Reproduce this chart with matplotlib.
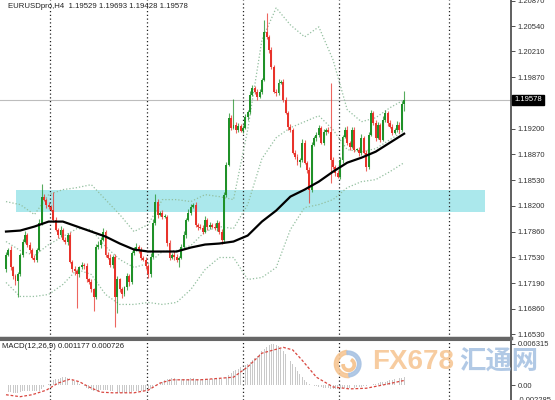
import matplotlib
matplotlib.use("Agg")
import matplotlib.pyplot as plt
import matplotlib.transforms as mtransforms
import numpy as np
from matplotlib.patches import Rectangle, Wedge

plt.rcParams['font.family'] = ['Liberation Sans', 'DejaVu Sans', 'Noto Sans CJK SC']

# ---- data (EURUSD H4) ----
first_open = 1.17370
closes = [
    1.17565, 1.17630, 1.17396, 1.17279, 1.17214, 1.17305, 1.17565, 1.17734, 1.17825, 1.17695,
    1.17630, 1.17526, 1.17500, 1.17630, 1.17981, 1.18319, 1.18280, 1.18215, 1.18189, 1.18150,
    1.18020, 1.17890, 1.17825, 1.17890, 1.17760, 1.17734, 1.17825, 1.17474, 1.17370, 1.17344,
    1.17305, 1.17396, 1.17435, 1.17422, 1.17240, 1.17201, 1.17110, 1.17006, 1.17669, 1.17695,
    1.17760, 1.17864, 1.17565, 1.17526, 1.17435, 1.17539, 1.17006, 1.17240, 1.17110, 1.17045,
    1.17136, 1.17279, 1.17201, 1.17591, 1.17630, 1.17669, 1.17630, 1.17526, 1.17500, 1.17409,
    1.17305, 1.17539, 1.17981, 1.18254, 1.18085, 1.18111, 1.18059, 1.18059, 1.17721, 1.17526,
    1.17565, 1.17539, 1.17500, 1.17526, 1.17669, 1.17825, 1.18020, 1.18111, 1.18189, 1.18215,
    1.17955, 1.17929, 1.17916, 1.17864, 1.18020, 1.17929, 1.17955, 1.17929, 1.17916, 1.17981,
    1.17864, 1.17760, 1.18345, 1.18735, 1.19346, 1.19216, 1.19255, 1.19190, 1.19242, 1.19177,
    1.19216, 1.19359, 1.19424, 1.19645, 1.19736, 1.19684, 1.19619, 1.19684, 1.19840, 1.20464,
    1.20399, 1.20230, 1.20009, 1.19684, 1.19671, 1.19801, 1.19814, 1.19580, 1.19411, 1.19229,
    1.19190, 1.18891, 1.18839, 1.18774, 1.18800, 1.19021, 1.18761, 1.18670, 1.18410, 1.18995,
    1.19086, 1.19125, 1.19216, 1.19021, 1.19164, 1.19190, 1.19164, 1.18800, 1.18709, 1.18631,
    1.18579, 1.18800, 1.19099, 1.19190, 1.19021, 1.18969, 1.19190, 1.18930, 1.18930, 1.18891,
    1.19086, 1.18891, 1.18709, 1.19125, 1.19411, 1.19281, 1.19086, 1.19255, 1.19060, 1.19320,
    1.19411, 1.19281, 1.19229, 1.19151, 1.19190, 1.19255, 1.19190, 1.19529, 1.19578,
]
upper_wick_pips = [
    3, 2, 4, 2, 3, 3, 2, 3, 4, 2, 3, 2, 3, 2, 4, 16, 3, 2, 3, 2,
    23, 3, 2, 4, 2, 3, 2, 3, 2, 4, 3, 2, 3, 2, 3, 2, 4, 2, 3, 4,
    3, 5, 2, 3, 4, 2, 3, 4, 2, 3, 2, 4, 3, 2, 3, 4, 2, 3, 2, 3,
    3, 4, 5, 10, 3, 2, 4, 3, 2, 3, 2, 4, 3, 2, 3, 4, 2, 5, 3, 2,
    4, 2, 3, 3, 5, 2, 3, 2, 4, 3, 2, 3, 4, 3, 6, 3, 33, 4, 3, 2,
    3, 4, 2, 5, 3, 2, 4, 3, 2, 16, 25, 3, 4, 2, 3, 5, 2, 3, 4, 2,
    3, 2, 4, 3, 2, 5, 3, 2, 3, 4, 2, 3, 4, 2, 3, 2, 4, 64, 3, 2,
    3, 4, 2, 3, 5, 2, 3, 4, 2, 3, 5, 2, 3, 4, 3, 2, 4, 3, 2, 5,
    3, 2, 4, 3, 2, 5, 3, 4, 11,
]
lower_wick_pips = [
    3, 2, 3, 3, 4, 20, 2, 3, 2, 3, 4, 2, 3, 3, 2, 3, 2, 4, 3, 2,
    3, 2, 4, 3, 2, 3, 4, 2, 3, 5, 43, 3, 2, 4, 3, 2, 3, 18, 2, 3,
    4, 2, 3, 2, 3, 4, 38, 20, 3, 4, 2, 3, 5, 2, 3, 2, 4, 3, 2, 3,
    4, 3, 2, 3, 4, 2, 3, 2, 4, 3, 2, 5, 3, 10, 2, 3, 4, 2, 3, 2,
    3, 4, 2, 3, 2, 4, 3, 2, 3, 4, 3, 6, 4, 3, 2, 3, 2, 4, 3, 2,
    3, 2, 4, 3, 2, 3, 4, 2, 3, 2, 3, 4, 3, 2, 4, 3, 2, 3, 2, 4,
    3, 2, 3, 4, 7, 3, 2, 4, 17, 3, 2, 4, 3, 2, 3, 4, 2, 30, 3, 4,
    2, 3, 4, 2, 3, 4, 2, 3, 2, 4, 3, 2, 6, 3, 2, 3, 4, 2, 3, 2,
    3, 4, 2, 3, 2, 3, 4, 2, 10,
]

# indicator values sampled every 6 bars
ind_idx = list(range(0, 169, 6))
ma_vals = [1.17864, 1.17877, 1.17929, 1.17994, 1.17994, 1.17929, 1.17864, 1.17799, 1.17708, 1.17630,
           1.17604, 1.17604, 1.17604, 1.17656, 1.17695, 1.17708, 1.17734, 1.17812, 1.17994, 1.18137,
           1.18319, 1.18410, 1.18514, 1.18644, 1.18761, 1.18826, 1.18904, 1.19021, 1.19138]
bb_upper = [1.18254, 1.18215, 1.18085, 1.18345, 1.18410, 1.18436, 1.18475, 1.18280, 1.18085, 1.17864,
            1.17955, 1.18280, 1.18280, 1.18254, 1.18345, 1.18319, 1.18280, 1.19190, 1.20360, 1.20776,
            1.20555, 1.20399, 1.20529, 1.20100, 1.19450, 1.19294, 1.19346, 1.19476, 1.19580]
bb_mid = [1.17734, 1.17617, 1.17552, 1.17695, 1.17799, 1.17903, 1.17890, 1.17669, 1.17500, 1.17396,
          1.17448, 1.17604, 1.17617, 1.17682, 1.17864, 1.17929, 1.17903, 1.18215, 1.18813, 1.19086,
          1.19216, 1.19294, 1.19372, 1.19190, 1.18930, 1.18904, 1.18943, 1.19060, 1.19177]
bb_lower = [1.17201, 1.17019, 1.17019, 1.17045, 1.17175, 1.17370, 1.17305, 1.17045, 1.16915, 1.16915,
            1.16941, 1.16915, 1.16941, 1.17110, 1.17370, 1.17526, 1.17526, 1.17240, 1.17266, 1.17396,
            1.17890, 1.18176, 1.18215, 1.18280, 1.18436, 1.18514, 1.18540, 1.18644, 1.18761]

# MACD main (x 1e-4) per bar, signal sampled
macd_main = [
    -10, -11, -11, -12, -12, -12, -11, -10, -9, -9, -9, -9, -10, -10, -9, -6, -3, 0, 2, 5,
    7, 9, 10, 11, 12, 12, 11, 10, 8, 6, 4, 2, 0, -2, -4, -6, -8, -10, -10, -9,
    -8, -7, -7, -8, -9, -9, -11, -12, -12, -12, -12, -12, -11, -11, -10, -10, -10, -10, -10, -10,
    -8, -6, -4, -2, 0, 3, 5, 7, 9, 10, 11, 11, 10, 10, 9, 9, 10, 10, 11, 11,
    10, 10, 9, 9, 9, 9, 9, 9, 9, 9, 9, 9, 12, 13, 16, 19, 21, 23, 25, 27,
    29, 31, 33, 35, 38, 41, 44, 48, 52, 56, 59, 61, 63, 63, 62, 60, 56, 52, 47, 42,
    37, 32, 27, 22, 17, 12, 8, 4, 2, 0, -1, -2, -3, -3, -4, -4, -5, -6, -6, -6,
    -6, -5, -5, -5, -5, -4, -4, -4, -3, -3, -3, -2, -1, 0, 0, 1, 2, 3, 4, 5,
    5, 6, 7, 8, 9, 10, 11, 11, 12,
]
sig_idx = [0, 6, 11, 17, 22, 27, 31, 35, 40, 45, 54, 60, 65, 70, 82, 96, 102, 108,
           117, 121, 125, 131, 138, 145, 152, 159, 168]
sig_vals = [-15, -18, -15, -8, 3, 9, 5, -3, -11, -12, -12, -8, 3, 8, 8, 12, 28, 49,
            58, 54, 38, 12, -3, -6, -5, 0, 7]

last_price = 1.19578
zone_low, zone_high = 1.18118, 1.18405
zone_x = (4.2, 202.1)
sep_idx = [18.6, 59.5, 100.0, 140.5, 186.9]
price_ticks = [1.20870, 1.20540, 1.20210, 1.19870, 1.19200, 1.18870, 1.18530,
               1.18200, 1.17860, 1.17530, 1.17190, 1.16860, 1.16530]
macd_ticks = [0.006315, 0.0, -0.002285]
macd_tick_labels = ['0.006315', '0.00', '-0.002285']

GREEN = '#1f9128'
RED = '#e8332b'
BAND = '#93bf9f'

W, H = 555, 400
fig = plt.figure(figsize=(W / 100, H / 100), dpi=100)
ax = fig.add_axes([0, 62 / H, 511 / W, 338 / H])
ax2 = fig.add_axes([0, 0, 511 / W, 60 / H])

n = len(closes)
x = np.arange(n)
c = np.array(closes)
o = np.array([first_open] + closes[:-1])
top = np.maximum(o, c)
bot = np.minimum(o, c)
hi = top + np.array(upper_wick_pips) * 1e-4
lo = bot - np.array(lower_wick_pips) * 1e-4
up = c >= o
cols = np.where(up, GREEN, RED)
body = np.maximum(top - bot, 0.00004)

# zone + lines
ax.add_patch(Rectangle((zone_x[0], zone_low), zone_x[1] - zone_x[0], zone_high - zone_low,
                       facecolor='#abe8ec', edgecolor='none', zorder=0))
ax.axhline(last_price, color='#bdbdbd', lw=0.8, zorder=1)
for s in sep_idx:
    ax.axvline(s, color='#222222', ls=(0, (1, 2)), lw=0.9, zorder=1)
    ax2.axvline(s, color='#222222', ls=(0, (1, 2)), lw=0.9, zorder=1)

# candles
ax.vlines(x, lo, hi, colors=cols, lw=0.8, alpha=0.75, zorder=3)
ax.bar(x, body, bottom=bot, width=0.82, color=cols, linewidth=0, zorder=4)

# bands & MA
for band in (bb_upper, bb_mid, bb_lower):
    ax.plot(ind_idx, band, color=BAND, ls=(0, (1, 1.6)), lw=0.9, zorder=2)
ax.plot(ind_idx, ma_vals, color='black', lw=1.6, zorder=5)

ax.set_xlim(-2.53, 213.1)
ax.set_ylim(1.16478, 1.20879)
ax.set_xticks([])
ax.yaxis.tick_right()
ax.set_yticks(price_ticks)
ax.set_yticklabels([f'{t:.5f}' for t in price_ticks])
ax.tick_params(axis='y', direction='out', length=3, width=0.6, labelsize=5.5,
               pad=2, colors='#333333')
for s in ('left', 'top'):
    ax.spines[s].set_visible(False)
ax.spines['right'].set_color('#444444')
ax.spines['right'].set_linewidth(1.2)
ax.spines['bottom'].set_color('#666666')
ax.spines['bottom'].set_linewidth(2.5)

trans = mtransforms.blended_transform_factory(ax.transAxes, ax.transData)
ax.text(1.006, last_price, f'{last_price:.5f}', transform=trans, ha='left', va='center',
        fontsize=5.5, color='white', clip_on=False, zorder=10,
        bbox=dict(facecolor='black', edgecolor='black', pad=1.3))

# MACD panel
macd = np.array(macd_main) * 1e-4
ax2.bar(x, macd, width=0.4, color='#c9c9c9', linewidth=0, zorder=2)
ax2.plot(sig_idx, np.array(sig_vals) * 1e-4, color='#d9463f', ls=(0, (2.2, 1.5)), lw=0.9, zorder=3)
ax2.set_xlim(-2.53, 213.1)
ax2.set_ylim(-0.00231, 0.00693)
ax2.set_xticks([])
ax2.yaxis.tick_right()
ax2.set_yticks(macd_ticks)
ax2.set_yticklabels(macd_tick_labels)
ax2.tick_params(axis='y', direction='out', length=3, width=0.6, labelsize=5.5,
                pad=2, colors='#333333')
for s in ('left', 'bottom'):
    ax2.spines[s].set_visible(False)
ax2.spines['top'].set_color('#666666')
ax2.spines['top'].set_linewidth(1.5)
ax2.spines['right'].set_color('#444444')
ax2.spines['right'].set_linewidth(1.2)

# labels
fig.text(8 / W, 1 - 6 / H, 'EURUSDpro,H4  1.19529 1.19693 1.19428 1.19578',
         fontsize=5.6, color='#222222', va='center', ha='left')
fig.text(2 / W, 1 - 346 / H, 'MACD(12,26,9) 0.001177 0.000726',
         fontsize=5.6, color='#222222', va='center', ha='left')

# watermark
fig.text(372 / W, 1 - 362 / H, 'FX678', fontsize=20, fontweight='bold',
         family=['Liberation Sans', 'DejaVu Sans'],
         color='#f6c48f', alpha=0.85, va='center', ha='left')
fig.text(459 / W, 1 - 362 / H, '汇通网', fontsize=19, fontweight='bold',
         family=['Noto Sans CJK SC', 'DejaVu Sans'],
         color='#a9c3e3', alpha=0.9, va='center', ha='left')
logo = fig.add_axes([333 / W, 1 - 380 / H, 30 / W, 32 / H])
logo.set_xlim(-1.1, 1.1)
logo.set_ylim(-1.1, 1.1)
logo.set_aspect('equal')
logo.axis('off')
logo.add_patch(Wedge((0, 0), 1.0, 95, 275, width=0.28, color='#f6c48f', alpha=0.85))
logo.add_patch(Wedge((0, 0), 0.95, -85, 95, width=0.25, color='#a9c3e3', alpha=0.9))
logo.add_patch(Wedge((0.05, -0.05), 0.5, 180, 420, width=0.18, color='#f6c48f', alpha=0.9))

fig.savefig('out.png', dpi=100)
